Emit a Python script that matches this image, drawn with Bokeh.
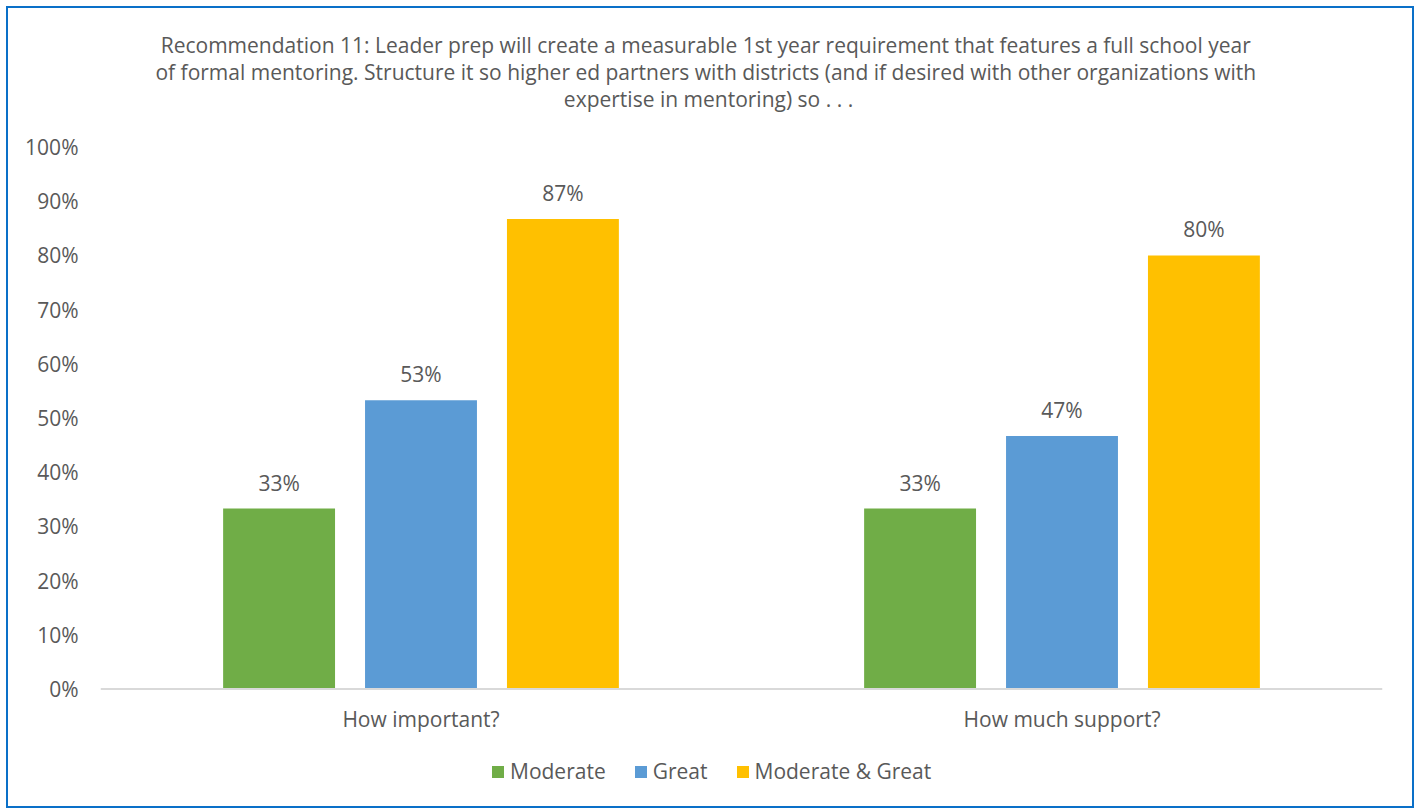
from bokeh.plotting import figure
from bokeh.models import (ColumnDataSource, FactorRange, Range1d, FixedTicker,
                          NumeralTickFormatter, Legend, LegendItem, LabelSet, Label, Span)
from bokeh.core.properties import value
from bokeh.transform import dodge
from bokeh.embed import file_html
from bokeh.resources import INLINE

categories = ["How important?", "How much support?"]
series = ["Moderate", "Great", "Moderate & Great"]
moderate = [0.333, 0.333]
great = [0.533, 0.467]
moderate_great = [0.867, 0.80]
y_ticks = [0, 0.1, 0.2, 0.3, 0.4, 0.5, 0.6, 0.7, 0.8, 0.9, 1.0]
title_lines = [
    "Recommendation 11:  Leader prep will create a measurable 1st year requirement that features a full school year",
    "of formal mentoring.  Structure it so higher ed partners with districts (and if desired with other organizations with",
    "expertise in mentoring) so . . .",
]

colors = ["#70AD47", "#5B9BD5", "#FFC000"]
text_color = "#595959"
FONT = "Open Sans"

src = ColumnDataSource(dict(
    cat=categories,
    base=[0] * len(categories),
    moderate=moderate,
    great=great,
    mg=moderate_great,
    moderate_lbl=[f"{round(v*100)}%" for v in moderate],
    great_lbl=[f"{round(v*100)}%" for v in great],
    mg_lbl=[f"{round(v*100)}%" for v in moderate_great],
))

# frame spans the whole chart height: room above 100% for the title,
# room below 0% for category labels and legend
px_per_unit = 540.0
above_px = 138.0
below_px = 121.0
p = figure(x_range=FactorRange(*categories, range_padding=0),
           y_range=Range1d(-below_px / px_per_unit, 1 + above_px / px_per_unit),
           width=1408, height=802, output_backend="svg", toolbar_location=None,
           min_border_left=92, min_border_right=34, min_border_top=0, min_border_bottom=0)
p.styles = {"border": "2px solid #0A70C8", "margin": "6px 0px 0px 6px"}

# chart title (three centred lines)
for i, line in enumerate(title_lines):
    p.add_layout(Label(text=line, x=608, y=766 - 27 * i, x_units="screen", y_units="screen",
                       text_align="center", text_baseline="middle", text_font=FONT,
                       text_font_size="21px", text_color=text_color))

w = 0.1746
offs = [-0.2214, 0.0, 0.2214]
cols = ["moderate", "great", "mg"]
lbls = ["moderate_lbl", "great_lbl", "mg_lbl"]
renderers = []
for c, o, col, lb in zip(cols, offs, colors, lbls):
    r = p.vbar(x=dodge("cat", o, range=p.x_range), top=c, width=w, source=src,
               fill_color=col, line_color=None)
    renderers.append(r)
    p.add_layout(LabelSet(x=dodge("cat", o, range=p.x_range), y=c, text=lb, source=src,
                          text_align="center", text_baseline="middle", y_offset=26,
                          text_font=value(FONT), text_font_size="21px", text_color=text_color))

# baseline (category axis line) and category labels
p.add_layout(Span(location=0, dimension="width", line_color="#D9D9D9", line_width=2))
p.add_layout(LabelSet(x="cat", y="base", text="cat", source=src, text_align="center",
                      text_baseline="middle", y_offset=-30, text_font=value(FONT),
                      text_font_size="21px", text_color=text_color))

legend = Legend(items=[LegendItem(label=s, renderers=[r]) for s, r in zip(series, renderers)],
                orientation="horizontal", location=(390, 25),
                label_text_font=FONT, label_text_font_size="21px", label_text_color=text_color,
                glyph_width=15, glyph_height=15, spacing=27, label_standoff=5,
                border_line_color=None, background_fill_alpha=0, padding=4, margin=0)
p.add_layout(legend, "center")

p.xgrid.visible = False
p.ygrid.visible = False
p.outline_line_color = None
p.xaxis.visible = False

p.yaxis.ticker = FixedTicker(ticks=y_ticks)
p.yaxis.formatter = NumeralTickFormatter(format="0%")
p.yaxis.axis_line_color = None
p.yaxis.major_tick_line_color = None
p.yaxis.minor_tick_line_color = None
p.yaxis.major_tick_out = 0
p.yaxis.minor_tick_out = 0
p.yaxis.major_label_text_font = FONT
p.yaxis.major_label_text_font_size = "21px"
p.yaxis.major_label_text_color = text_color
p.yaxis.major_label_standoff = 22

open("out.html", "w").write(file_html(p, INLINE))
